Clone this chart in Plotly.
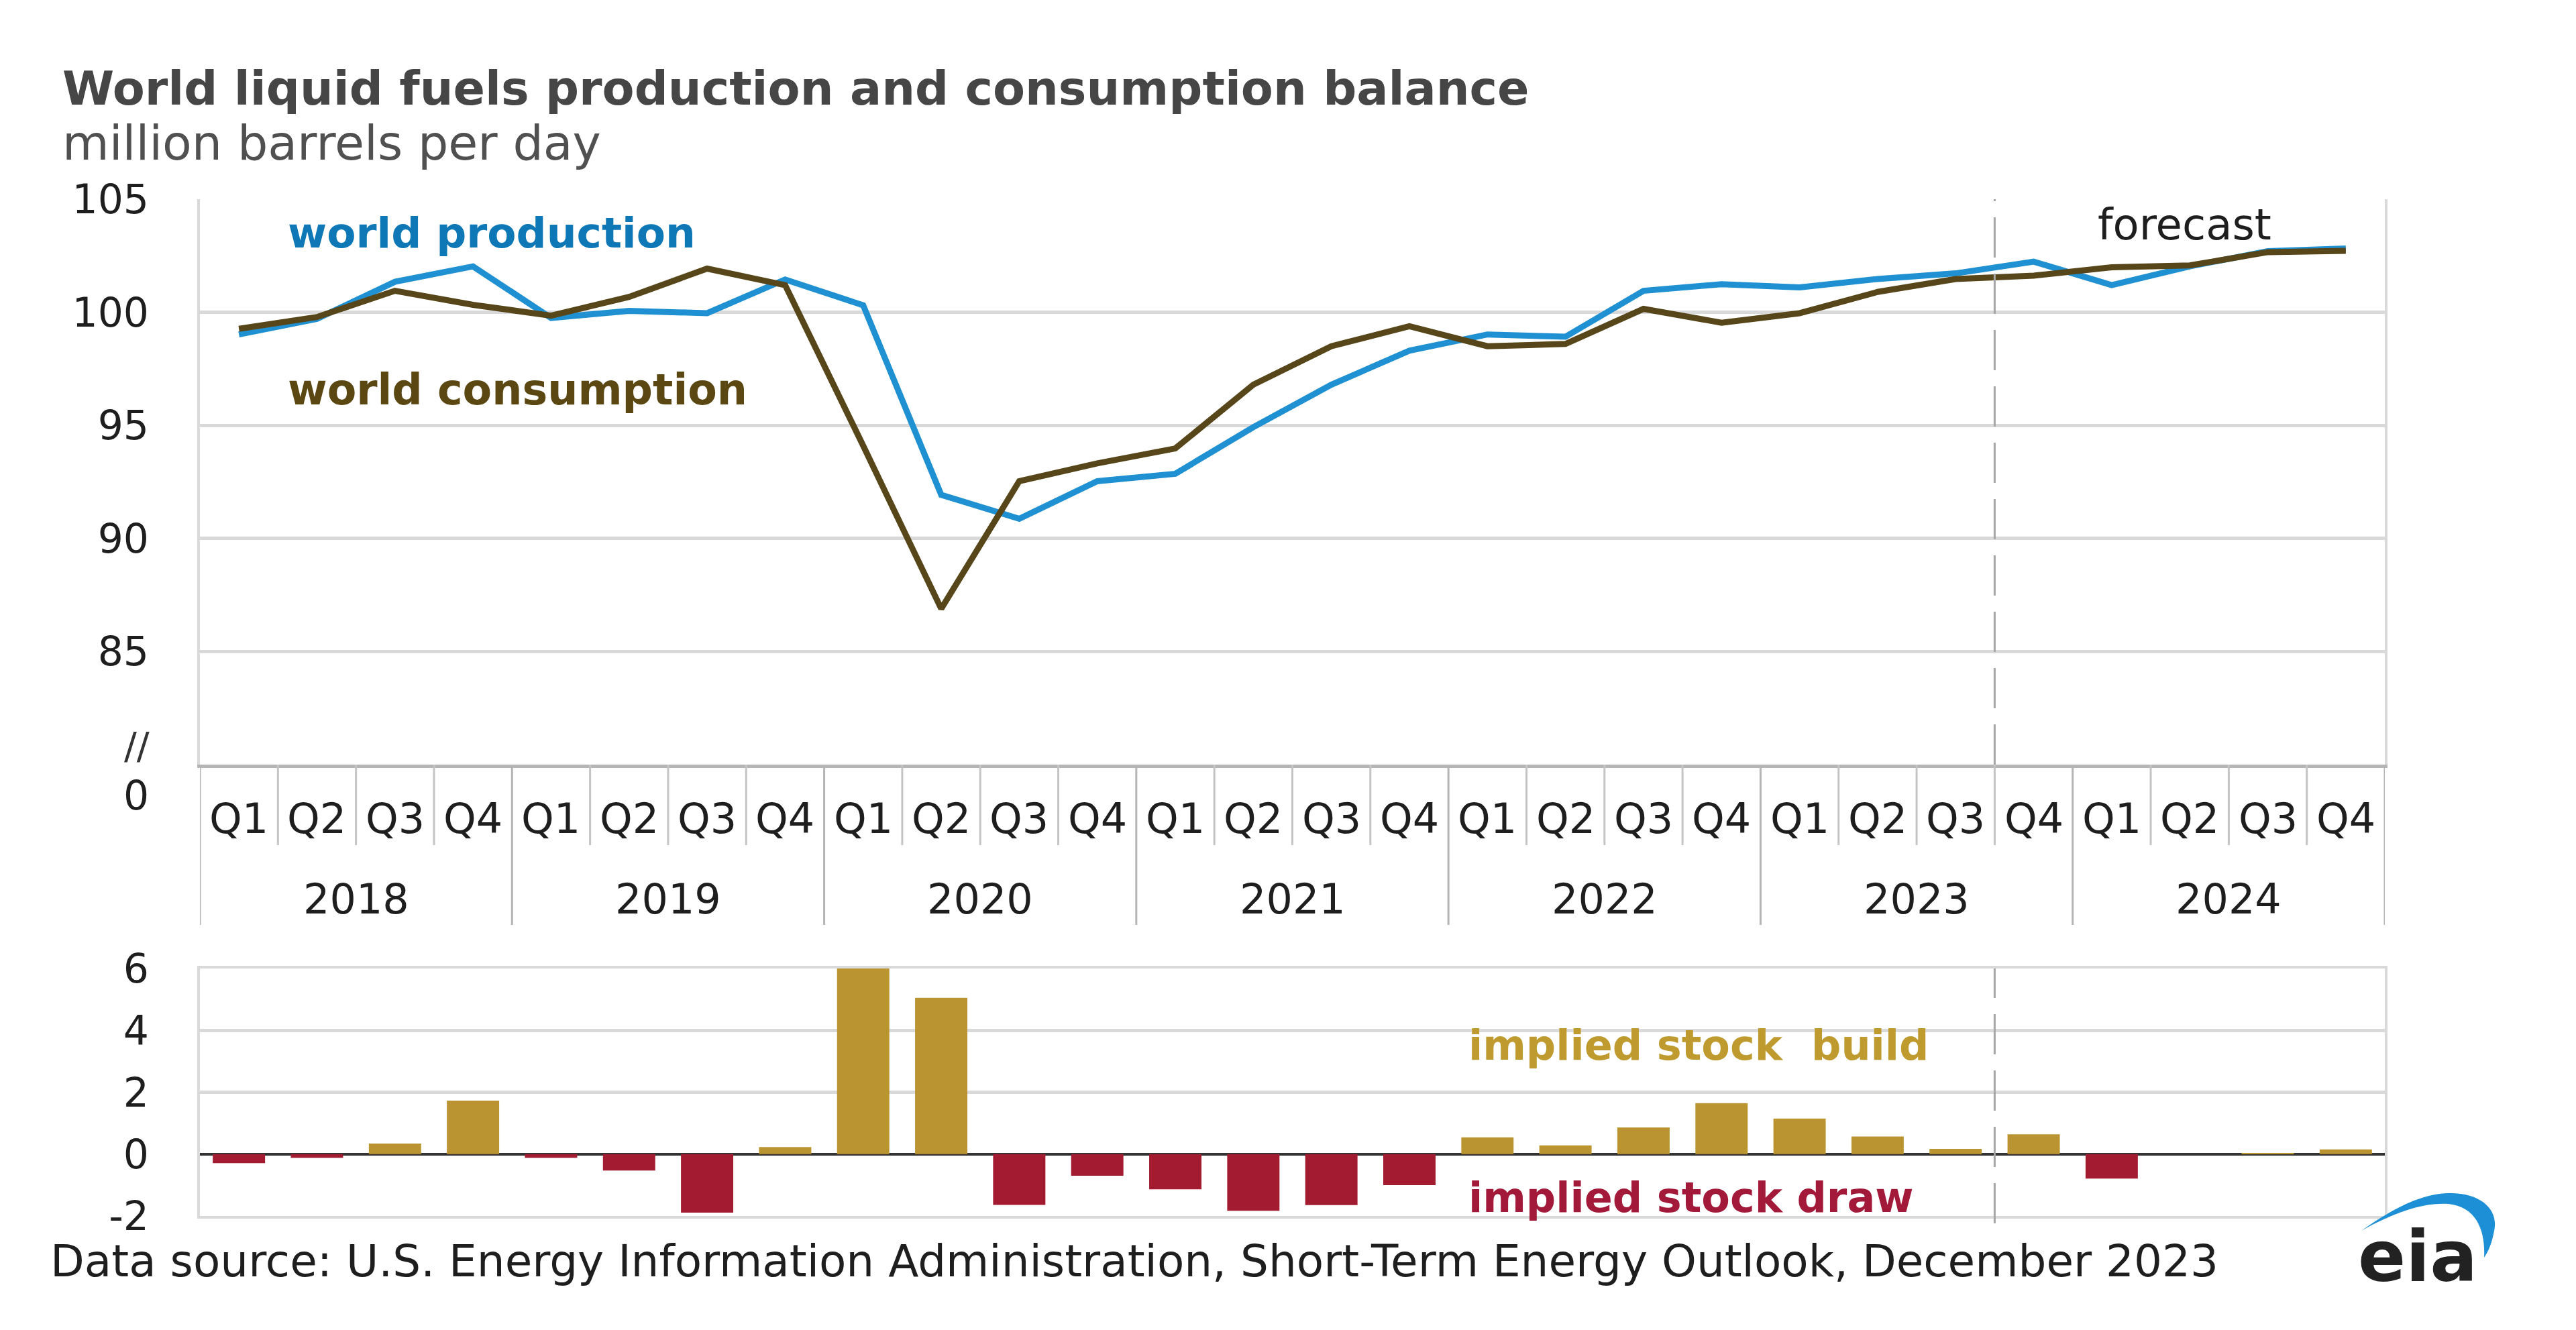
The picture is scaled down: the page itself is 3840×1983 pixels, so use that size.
import plotly.graph_objects as go

# ---------------- data ----------------
years = ["2018", "2019", "2020", "2021", "2022", "2023", "2024"]
quarters = ["Q1", "Q2", "Q3", "Q4"]

production = [99.02, 99.71, 101.35, 102.03,
              99.75, 100.06, 99.96, 101.45,
              100.31, 91.93, 90.87, 92.53,
              92.86, 94.92, 96.80, 98.30,
              99.02, 98.92, 100.95, 101.24,
              101.10, 101.47, 101.72, 102.24,
              101.20, 102.03, 102.70, 102.82]

consumption = [99.27, 99.79, 100.95, 100.33,
               99.85, 100.68, 101.93, 101.20,
               94.10, 86.89, 92.53, 93.32,
               93.98, 96.80, 98.50, 99.38,
               98.50, 98.60, 100.15, 99.54,
               99.96, 100.90, 101.47, 101.62,
               101.99, 102.07, 102.66, 102.72]

stock_change = [-0.29, -0.12, 0.34, 1.73,
                -0.12, -0.53, -1.89, 0.23,
                6.04, 5.05, -1.64, -0.70,
                -1.14, -1.83, -1.65, -1.00,
                0.54, 0.28, 0.86, 1.65,
                1.15, 0.57, 0.17, 0.64,
                -0.79, 0.00, 0.03, 0.15]

upper_ticks = [85, 90, 95, 100, 105]
lower_ticks = [-2, 0, 2, 4, 6]
forecast_start = "2023 Q4"

# ---------------- styling ----------------
W, H = 3840, 1983
FONT = "DejaVu Sans"
BLUE = "#1F91D2"
BLUE_TXT = "#0E78B6"
BROWN = "#574619"
BROWN_TXT = "#5A4712"
GOLD = "#BA9430"
GOLD_TXT = "#BF9B2F"
RED = "#A21B30"
RED_TXT = "#A3193A"
GRID = "#D9D9D9"
TXT = "#1E1E1E"

labels = [f"{y} {q}" for y in years for q in quarters]
idx = list(range(len(labels)))
fc_x = labels.index(forecast_start) - 0.5


def px(x):
    return x / W


def py(y):
    return 1 - y / H


x_dom = [px(298), px(3555)]
up_dom = [py(1140), py(297)]
lo_dom = [py(1813), py(1444)]

fig = go.Figure()
fig.add_trace(go.Scatter(x=idx, y=production, mode="lines",
                         line=dict(color=BLUE, width=9), xaxis="x", yaxis="y",
                         name="world production"))
fig.add_trace(go.Scatter(x=idx, y=consumption, mode="lines",
                         line=dict(color=BROWN, width=9), xaxis="x", yaxis="y",
                         name="world consumption"))
fig.add_trace(go.Bar(x=idx, y=stock_change, width=0.67,
                     marker=dict(color=[GOLD if v >= 0 else RED for v in stock_change],
                                 line=dict(width=0)),
                     xaxis="x2", yaxis="y2", name="implied stock change"))

axis_common = dict(showticklabels=False, ticks="", showgrid=False, zeroline=False,
                   range=[-0.5, len(labels) - 0.5], domain=x_dom, fixedrange=True,
                   automargin=False)

ytick_common = dict(showgrid=True, gridcolor=GRID, gridwidth=5, showline=True,
                    linecolor=GRID, linewidth=4, mirror=True, ticks="outside",
                    ticklen=60, tickcolor="rgba(0,0,0,0)", tickwidth=1,
                    tickfont=dict(size=60, color=TXT, family=FONT),
                    automargin=False, fixedrange=True)

fig.update_layout(
    template="none",
    width=W, height=H,
    margin=dict(l=0, r=0, t=0, b=0, pad=0, autoexpand=False),
    paper_bgcolor="white", plot_bgcolor="white",
    showlegend=False,
    font=dict(family=FONT, color=TXT, size=60),
    xaxis=dict(**axis_common, anchor="y", showline=True, linecolor="#B5B5B5",
               linewidth=5),
    yaxis=dict(**ytick_common, domain=up_dom, range=[80, 105], tickvals=upper_ticks,
               ticktext=[str(t) for t in upper_ticks], zeroline=False, anchor="x"),
    xaxis2=dict(**axis_common, anchor="y2", showline=True, linecolor=GRID,
                linewidth=4, mirror=True),
    yaxis2=dict(**ytick_common, domain=lo_dom, range=[-2, 6], tickvals=lower_ticks,
                ticktext=[str(t) for t in lower_ticks], zeroline=True,
                zerolinecolor="#333333", zerolinewidth=4, anchor="x2"),
    bargap=0.33,
)

shapes = []
# forecast dashed lines
shapes.append(dict(type="line", xref="x", yref="y domain", x0=fc_x, x1=fc_x,
                   y0=0, y1=1, line=dict(color="#A6A6A6", width=3, dash="60px,24px")))
shapes.append(dict(type="line", xref="x2", yref="y2 domain", x0=fc_x, x1=fc_x,
                   y0=-0.03, y1=1, line=dict(color="#A6A6A6", width=3, dash="60px,24px")))
# category separators (quarters and years)
for i in range(len(labels) + 1):
    xb = i - 0.5
    if i % 4 == 0:
        shapes.append(dict(type="line", xref="x", yref="paper", x0=xb, x1=xb,
                           y0=py(1379), y1=py(1140),
                           line=dict(color="#B5B5B5", width=3)))
    else:
        shapes.append(dict(type="line", xref="x", yref="paper", x0=xb, x1=xb,
                           y0=py(1260), y1=py(1140),
                           line=dict(color="#C4C4C4", width=3)))

# eia logo swoosh
swoosh_pts = [(3520, 1835), (3570, 1800), (3610, 1780), (3650, 1779),
              (3700, 1778), (3725, 1805), (3718, 1835),
              (3715, 1852), (3710, 1865), (3703, 1875),
              (3705, 1840), (3695, 1800), (3650, 1795),
              (3610, 1792), (3565, 1810), (3520, 1835)]
p = [f"{px(x):.5f},{py(y):.5f}" for x, y in swoosh_pts]
path = f"M {p[0]} C {p[1]} {p[2]} {p[3]} C {p[4]} {p[5]} {p[6]} C {p[7]} {p[8]} {p[9]} C {p[10]} {p[11]} {p[12]} C {p[13]} {p[14]} {p[15]} Z"
shapes.append(dict(type="path", xref="paper", yref="paper", path=path,
                   fillcolor="#1C8FD6", line=dict(width=0)))
fig.update_layout(shapes=shapes)

ann = []
# quarter labels
for i, lab in enumerate(labels):
    ann.append(dict(x=i, y=py(1220), xref="x", yref="paper", text=lab.split(" ")[1],
                    showarrow=False, xanchor="center", yanchor="middle",
                    font=dict(size=62, color=TXT)))
# year labels
for k, y in enumerate(years):
    ann.append(dict(x=4 * k + 1.5, y=py(1340), xref="x", yref="paper", text=y,
                    showarrow=False, xanchor="center", yanchor="middle",
                    font=dict(size=62, color=TXT)))

# titles
ann.append(dict(x=px(91), y=py(132), xref="paper", yref="paper",
                text="<b>World liquid fuels production and consumption balance</b>",
                showarrow=False, xanchor="left", yanchor="middle",
                font=dict(size=70, color="#464646")))
ann.append(dict(x=px(91), y=py(214), xref="paper", yref="paper",
                text="million barrels per day",
                showarrow=False, xanchor="left", yanchor="middle",
                font=dict(size=71.5, color="#505050")))
# series labels
ann.append(dict(x=px(427), y=py(348), xref="paper", yref="paper",
                text="<b>world production</b>", showarrow=False,
                xanchor="left", yanchor="middle", font=dict(size=63, color=BLUE_TXT)))
ann.append(dict(x=px(427), y=py(581), xref="paper", yref="paper",
                text="<b>world consumption</b>", showarrow=False,
                xanchor="left", yanchor="middle", font=dict(size=63.5, color=BROWN_TXT)))
ann.append(dict(x=px(3125), y=py(335), xref="paper", yref="paper",
                text="forecast", showarrow=False,
                xanchor="left", yanchor="middle", font=dict(size=64, color=TXT)))
ann.append(dict(x=px(2187), y=py(1558), xref="paper", yref="paper",
                text="<b>implied stock\u00a0 build</b>", showarrow=False,
                xanchor="left", yanchor="middle", font=dict(size=62, color=GOLD_TXT)))
ann.append(dict(x=px(2187), y=py(1785), xref="paper", yref="paper",
                text="<b>implied stock draw</b>", showarrow=False,
                xanchor="left", yanchor="middle", font=dict(size=62, color=RED_TXT)))
# axis break marks
ann.append(dict(x=px(225), y=py(1111), xref="paper", yref="paper",
                text="//", showarrow=False, xanchor="right", yanchor="middle",
                font=dict(size=56, color="#333333")))
ann.append(dict(x=px(224), y=py(1186), xref="paper", yref="paper",
                text="0", showarrow=False, xanchor="right", yanchor="middle",
                font=dict(size=60, color=TXT)))
# source
ann.append(dict(x=px(73), y=py(1880), xref="paper", yref="paper",
                text="Data source: U.S. Energy Information Administration, Short-Term Energy Outlook, December 2023",
                showarrow=False, xanchor="left", yanchor="middle",
                font=dict(size=66, color=TXT)))
# eia logo text
ann.append(dict(x=px(3604), y=py(1874), xref="paper", yref="paper",
                text="<b>eia</b>", showarrow=False, xanchor="center", yanchor="middle",
                font=dict(size=105, color="#222222")))
fig.update_layout(annotations=ann)

fig.write_html("out.html", config={"displayModeBar": False},
               post_script="document.body.style.margin='0px';document.body.style.overflow='hidden';")
